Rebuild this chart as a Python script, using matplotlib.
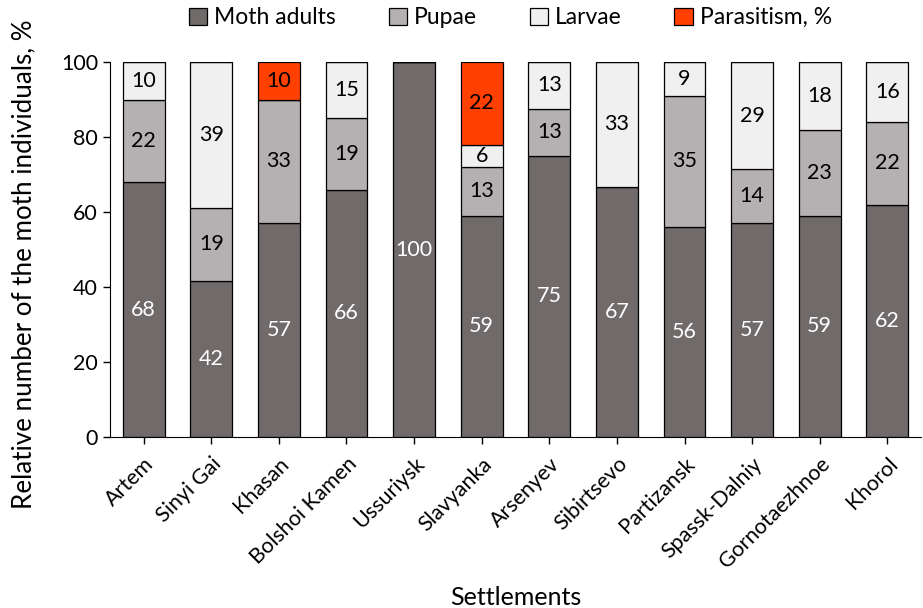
import numpy as np
import matplotlib.pyplot as plt

plt.rcParams['font.family'] = ['Lato', 'DejaVu Sans']

settlements = ['Artem', 'Sinyi Gai', 'Khasan', 'Bolshoi Kamen', 'Ussuriysk', 'Slavyanka',
               'Arsenyev', 'Sibirtsevo', 'Partizansk', 'Spassk-Dalniy', 'Gornotaezhnoe', 'Khorol']
adults = [68, 41.7, 57, 66, 100, 59, 75, 66.7, 56, 57.1, 59, 62]
pupae = [22, 19.4, 33, 19, 0, 13, 12.5, 0, 35, 14.3, 23, 22]
larvae = [10, 38.9, 0, 15, 0, 6, 12.5, 33.3, 9, 28.6, 18, 16]
parasitism = [0, 0, 10, 0, 0, 22, 0, 0, 0, 0, 0, 0]

series = [('Moth adults', adults, '#706a6a', 'white'),
          ('Pupae', pupae, '#b5b0b1', 'black'),
          ('Larvae', larvae, '#f0f0f0', 'black'),
          ('Parasitism, %', parasitism, '#ff4000', 'black')]

fig = plt.figure(figsize=(9.23, 6.08), dpi=100)
ax = fig.add_axes([0.119, 0.281, 0.879, 0.617])

x = np.arange(len(settlements))
bottom = np.zeros(len(settlements))
for name, vals, col, tcol in series:
    vals = np.array(vals, dtype=float)
    bars = ax.bar(x, vals, 0.62, bottom=bottom, color=col, edgecolor='black',
                  linewidth=0.9, label=name)
    labels = [str(int(v + 0.5)) if v > 0 else '' for v in vals]
    ax.bar_label(bars, labels=labels, label_type='center', color=tcol, fontsize=15.5)
    bottom += vals

ax.set_xlim(-0.5, len(settlements) - 0.5)
ax.set_ylim(0, 100)
ax.set_yticks(range(0, 101, 20))
ax.set_xticks(x)
ax.set_xticklabels(settlements, rotation=45, ha='right', rotation_mode='anchor')
ax.tick_params(labelsize=15.5, length=5, width=1)
ax.tick_params(axis='x', pad=7)
ax.spines['top'].set_visible(False)
ax.spines['right'].set_visible(False)
ax.set_ylabel('Relative number of the moth individuals, %', fontsize=18.7, labelpad=18, y=0.46)
ax.set_xlabel('Settlements', fontsize=18, labelpad=10)

fig.legend(loc='upper center', bbox_to_anchor=(0.553, 1.022), ncol=4, frameon=False,
           fontsize=16.5, handlelength=0.8, handleheight=0.8, handletextpad=0.3,
           columnspacing=2.3)

fig.savefig('out.png', dpi=100)
